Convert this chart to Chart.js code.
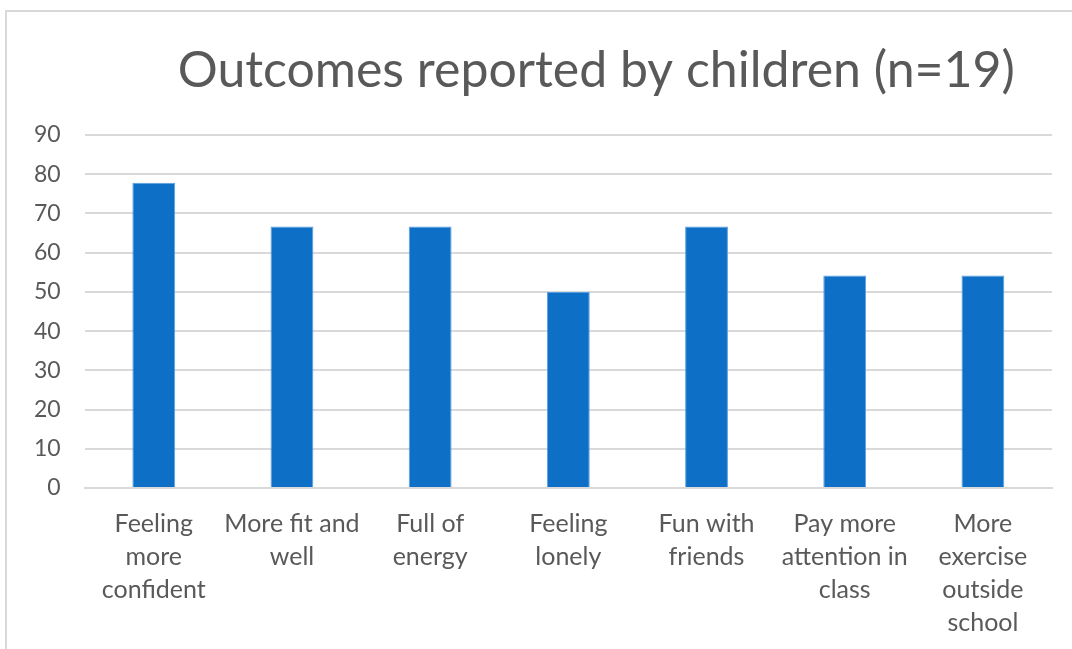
<!DOCTYPE html>
<html>
<head>
<meta charset="utf-8">
<script src="https://cdn.jsdelivr.net/npm/chart.js@4.4.0/dist/chart.umd.min.js"></script>
<style>
    html, body { margin: 0; padding: 0; background: #fff; overflow: hidden; }
    #frame {
        position: absolute; left: 5px; top: 10px; width: 1100px; height: 700px;
        border-top: 2px solid #D9D9D9; border-left: 2px solid #D9D9D9;
    }
    #wrap { position: absolute; left: 0; top: 0; width: 1072px; height: 649px; }
</style>
</head>
<body>
<div id="frame"></div>
<div id="wrap"><canvas id="outcomesChart" width="1072" height="649"></canvas></div>
<script>
const chartTitle = 'Outcomes reported by children (n=19)';
const categories = [
    ['Feeling', 'more', 'confident'],
    ['More fit and', 'well'],
    ['Full of', 'energy'],
    ['Feeling', 'lonely'],
    ['Fun with', 'friends'],
    ['Pay more', 'attention in', 'class'],
    ['More', 'exercise', 'outside', 'school']
];
const percentages = [77.8, 66.7, 66.7, 50, 66.7, 54.2, 54.2];
const yTicks = [0, 10, 20, 30, 40, 50, 60, 70, 80, 90];

// title drawn a bit right of centre, like the Excel original
const offsetTitle = {
    id: 'offsetTitle',
    afterDraw(chart) {
        const ctx = chart.ctx;
        const area = chart.chartArea;
        ctx.save();
        ctx.font = '50px Lato';
        ctx.fillStyle = '#595959';
        ctx.textAlign = 'center';
        ctx.textBaseline = 'middle';
        ctx.fillText(chartTitle, (area.left + area.right) / 2 + 28, 71);
        ctx.restore();
    }
};

document.addEventListener('DOMContentLoaded', function() {
    var ctx = document.getElementById('outcomesChart').getContext('2d');
    window.outcomesChart = new Chart(ctx, {
        type: 'bar',
        data: {
            labels: categories,
            datasets: [{
                data: percentages,
                backgroundColor: '#0E6FC6',
                borderColor: '#5B9FE0',
                borderWidth: 1,
                categoryPercentage: 1,
                barPercentage: 0.31
            }]
        },
        options: {
            responsive: false,
            animation: false,
            layout: { padding: { top: 135, right: 20, left: 10, bottom: -1 } },
            plugins: {
                legend: { display: false },
                tooltip: { enabled: false },
                title: { display: false }
            },
            scales: {
                x: {
                    grid: { display: false },
                    border: { color: '#D9D9D9', width: 2 },
                    ticks: {
                        color: '#595959',
                        font: { family: 'Lato', size: 25, lineHeight: 1.32 },
                        maxRotation: 0,
                        autoSkip: false,
                        padding: 11
                    }
                },
                y: {
                    min: 0,
                    max: 90,
                    afterBuildTicks: axis => { axis.ticks = yTicks.map(v => ({ value: v })); },
                    grid: { color: '#D9D9D9', lineWidth: 2, drawTicks: false },
                    border: { display: false },
                    ticks: {
                        color: '#595959',
                        font: { family: 'Lato', size: 23 },
                        padding: 24
                    }
                }
            }
        },
        plugins: [offsetTitle]
    });
});
</script>
</body>
</html>
